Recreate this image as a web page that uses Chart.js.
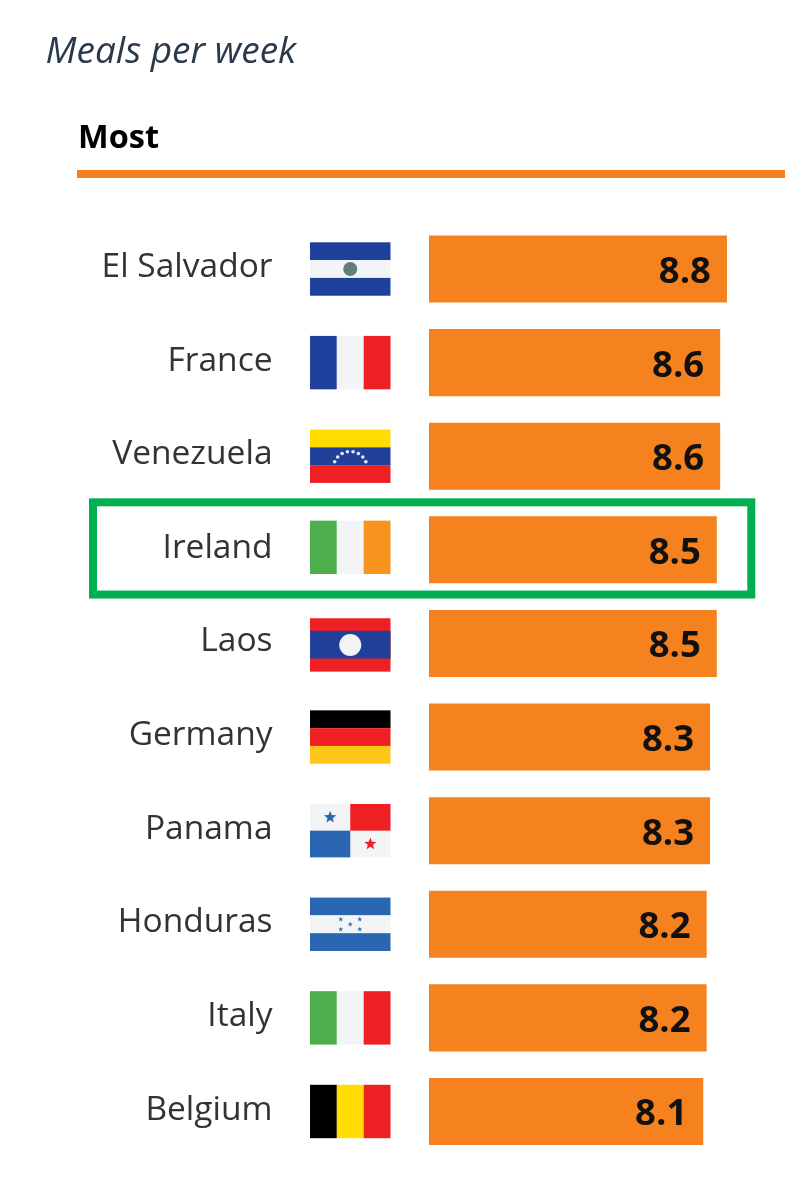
<!DOCTYPE html>
<html>
<head>
<meta charset="utf-8">
<style>html,body{margin:0;padding:0;background:#fff}canvas{display:block}</style>
<script src="https://cdn.jsdelivr.net/npm/chart.js@4"></script>
</head>
<body>
<canvas id="c" width="787" height="1200"></canvas>
<script>
const chartTitle = 'Meals per week';
const groupLabel = 'Most';
const countries = ['El Salvador','France','Venezuela','Ireland','Laos','Germany','Panama','Honduras','Italy','Belgium'];
const mealsPerWeek = [8.8,8.6,8.6,8.5,8.5,8.3,8.3,8.2,8.2,8.1];
const highlighted = 'Ireland';

const ORANGE = '#F5821F', WHITE = '#F3F4F6';
const BLUE = '#1F419E', MID = '#2A66B1', RED = '#EE2024', GREEN = '#4CAF4B';
const flagNudge = { 'Ireland': -2.5, 'Laos': 1.5 };

function stripes(ctx, x, y, w, h, colors, vertical) {
  colors.forEach((c, i) => {
    ctx.fillStyle = c;
    if (vertical) ctx.fillRect(x + w * i / colors.length, y, w / colors.length, h);
    else ctx.fillRect(x, y + h * i / colors.length, w, h / colors.length);
  });
}
function star(ctx, cx, cy, r, color) {
  ctx.fillStyle = color;
  ctx.beginPath();
  for (let i = 0; i < 10; i++) {
    const a = -Math.PI / 2 + i * Math.PI / 5, q = i % 2 ? r * 0.42 : r;
    ctx.lineTo(cx + q * Math.cos(a), cy + q * Math.sin(a));
  }
  ctx.closePath();
  ctx.fill();
}
const flagPainters = {
  'El Salvador'(c, x, y, w, h) {
    stripes(c, x, y, w, h, [BLUE, WHITE, BLUE]);
    c.fillStyle = '#5F7F78'; c.beginPath(); c.arc(x + w / 2, y + h / 2, 7, 0, 7); c.fill();
  },
  'France'(c, x, y, w, h) { stripes(c, x, y, w, h, [BLUE, WHITE, RED], true); },
  'Venezuela'(c, x, y, w, h) {
    stripes(c, x, y, w, h, ['#FFDD00', '#21409A', RED]);
    c.fillStyle = '#E8EBF5';
    for (let i = 0; i < 8; i++) {
      const a = Math.PI * (1.13 + 0.74 * i / 7);
      c.beginPath();
      c.arc(x + w / 2 + 17 * Math.cos(a), y + h * 0.73 + 17 * Math.sin(a), 1.8, 0, 7);
      c.fill();
    }
  },
  'Ireland'(c, x, y, w, h) { stripes(c, x, y, w, h, [GREEN, WHITE, '#F7941E'], true); },
  'Laos'(c, x, y, w, h) {
    c.fillStyle = RED; c.fillRect(x, y, w, h);
    c.fillStyle = '#21409A'; c.fillRect(x, y + h * 0.235, w, h * 0.52);
    c.fillStyle = WHITE; c.beginPath(); c.arc(x + w / 2, y + h / 2, 11, 0, 7); c.fill();
  },
  'Germany'(c, x, y, w, h) { stripes(c, x, y, w, h, ['#000000', RED, '#FFC619']); },
  'Panama'(c, x, y, w, h) {
    c.fillStyle = WHITE; c.fillRect(x, y, w, h);
    c.fillStyle = RED; c.fillRect(x + w / 2, y, w / 2, h / 2);
    c.fillStyle = MID; c.fillRect(x, y + h / 2, w / 2, h / 2);
    star(c, x + w / 4, y + h / 4, 6.5, MID);
    star(c, x + w * 3 / 4, y + h * 3 / 4, 6.5, RED);
  },
  'Honduras'(c, x, y, w, h) {
    stripes(c, x, y, w, h, [MID, WHITE, MID]);
    const cx = x + w / 2, cy = y + h / 2;
    [[-9.5, -5], [9.5, -5], [0, 0], [-9.5, 5], [9.5, 5]].forEach(p => star(c, cx + p[0], cy + p[1], 2.6, MID));
  },
  'Italy'(c, x, y, w, h) { stripes(c, x, y, w, h, [GREEN, WHITE, RED], true); },
  'Belgium'(c, x, y, w, h) { stripes(c, x, y, w, h, ['#000000', '#FFDD00', RED], true); }
};

const decorations = {
  id: 'decorations',
  afterDatasetsDraw(chart) {
    const c = chart.ctx, yS = chart.scales.y;
    c.save();
    c.fillStyle = '#000';
    c.font = 'bold 32.5px "Open Sans"';
    c.textAlign = 'left';
    c.textBaseline = 'alphabetic';
    c.fillText(groupLabel, 78, 148);
    c.fillStyle = ORANGE;
    c.fillRect(77, 170, 708, 8);
    countries.forEach((name, i) => {
      const cy = yS.getPixelForValue(i) + (flagNudge[name] || 0);
      flagPainters[name](c, 310, cy - 26.7, 80.5, 53.4);
    });
    const meta = chart.getDatasetMeta(0);
    c.fillStyle = '#111';
    c.font = 'bold 36.5px "Open Sans"';
    c.textAlign = 'right';
    c.textBaseline = 'middle';
    meta.data.forEach((bar, i) => {
      c.fillText(mealsPerWeek[i].toFixed(1), bar.x - 16, bar.y + 3.5);
    });
    const hy = yS.getPixelForValue(countries.indexOf(highlighted));
    c.strokeStyle = '#00B050';
    c.lineWidth = 8;
    c.strokeRect(93, hy - 47.5, 658.3, 92.2);
    c.restore();
  }
};

new Chart(document.getElementById('c'), {
  type: 'bar',
  data: {
    labels: countries,
    datasets: [{
      label: chartTitle,
      data: mealsPerWeek,
      backgroundColor: ORANGE,
      borderWidth: 0,
      barPercentage: 1,
      categoryPercentage: 0.716
    }]
  },
  options: {
    indexAxis: 'y',
    responsive: false,
    animation: false,
    devicePixelRatio: 1,
    layout: { padding: { left: 45.5, right: 19.4, top: 0, bottom: 41.7 } },
    plugins: {
      legend: { display: false },
      tooltip: { enabled: false },
      title: {
        display: true,
        text: chartTitle,
        align: 'start',
        color: '#2B3A4A',
        font: { family: '"Open Sans"', size: 37, style: 'italic', weight: 'normal' },
        padding: { top: 30, bottom: 147.8 }
      }
    },
    scales: {
      x: { display: false, min: 0, max: 10 },
      y: {
        afterFit(s) { s.width = 383.5; },
        border: { display: false },
        grid: { display: false, drawTicks: true, tickLength: 156.5 },
        ticks: {
          color: '#333333',
          font: { family: '"Open Sans"', size: 33.5 },
          padding: 0,
          labelOffset: -1.5,
          autoSkip: false
        }
      }
    }
  },
  plugins: [decorations]
});
</script>
</body>
</html>
